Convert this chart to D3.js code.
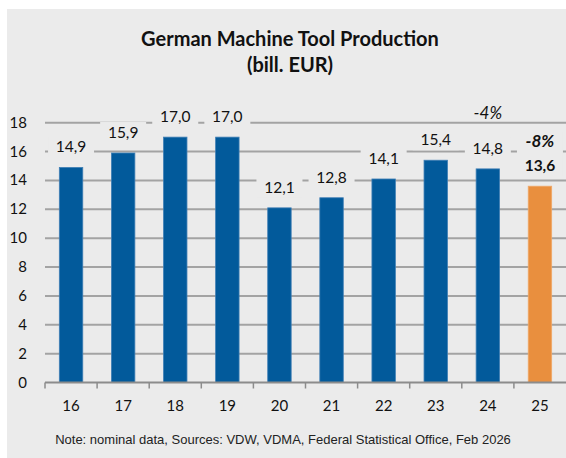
<!DOCTYPE html>
<html lang="en">
<head>
    <meta charset="UTF-8">
    <title>German Machine Tool Production</title>
    <script src="https://d3js.org/d3.v7.min.js"></script>
    <style>
        body {
            margin: 0;
            padding: 0;
            background-color: #fff;
        }
        svg {
            display: block;
        }
        .lbl {
            font-family: Lato, 'Noto Sans', sans-serif;
            fill: #111;
        }
    </style>
</head>
<body>
    <svg id="chart" width="566" height="458"></svg>

    <script>
        // Data
        const years = ["16", "17", "18", "19", "20", "21", "22", "23", "24", "25"];
        const production = [14.9, 15.9, 17.0, 17.0, 12.1, 12.8, 14.1, 15.4, 14.8, 13.6];
        const valueLabels = ["14,9", "15,9", "17,0", "17,0", "12,1", "12,8", "14,1", "15,4", "14,8", "13,6"];
        const yTicks = [0, 2, 4, 6, 8, 10, 12, 14, 16, 18];
        const change24 = "-4%";
        const change25 = "-8%";
        const highlightYear = "25";

        const svg = d3.select("#chart");

        // grey panel
        svg.append("rect")
            .attr("x", 7).attr("y", 9)
            .attr("width", 566 - 7).attr("height", 458 - 9)
            .attr("fill", "#ebebeb");

        // Scales
        const xScale = d3.scaleBand().domain(years).range([45, 566])
            .paddingInner(0.55).paddingOuter(0.275);
        const yScale = d3.scaleLinear().domain([0, 18]).range([382.5, 122.7]);

        // Title
        svg.append("text").attr("class", "lbl")
            .attr("x", 290).attr("y", 46)
            .attr("text-anchor", "middle")
            .style("font-size", "20px").style("font-weight", "bold")
            .text("German Machine Tool Production");
        svg.append("text").attr("class", "lbl")
            .attr("x", 290).attr("y", 72)
            .attr("text-anchor", "middle")
            .style("font-size", "20px").style("font-weight", "bold")
            .text("(bill. EUR)");

        // Gridlines
        svg.append("g")
            .selectAll("line")
            .data(yTicks.filter(d => d > 0))
            .join("line")
            .attr("x1", 45).attr("x2", 566)
            .attr("y1", d => yScale(d)).attr("y2", d => yScale(d))
            .attr("stroke", "#a3a3a3")
            .attr("stroke-width", 2);

        // Y labels
        svg.append("g")
            .selectAll("text")
            .data(yTicks)
            .join("text")
            .attr("class", "lbl")
            .attr("x", 27)
            .attr("y", d => yScale(d) + 5)
            .attr("text-anchor", "end")
            .style("font-size", "15px")
            .text(d => d);

        // Bars
        svg.append("g")
            .selectAll("rect")
            .data(years)
            .join("rect")
            .attr("x", d => xScale(d))
            .attr("y", (d, i) => yScale(production[i]))
            .attr("width", xScale.bandwidth())
            .attr("height", (d, i) => yScale(0) - yScale(production[i]))
            .attr("fill", d => d === highlightYear ? "#e98f3e" : "#025a9b")
            .attr("stroke", d => d === highlightYear ? "#f0a868" : "#3f7fb5")
            .attr("stroke-width", 0.8);

        // X axis
        const step = xScale.step();
        const axis = svg.append("g");
        axis.append("line")
            .attr("x1", 45).attr("x2", 566)
            .attr("y1", yScale(0)).attr("y2", yScale(0))
            .attr("stroke", "#8c8c8c").attr("stroke-width", 2);
        axis.selectAll(".tk")
            .data(years)
            .join("line")
            .attr("class", "tk")
            .attr("x1", d => xScale(d) - step * 0.275)
            .attr("x2", d => xScale(d) - step * 0.275)
            .attr("y1", yScale(0)).attr("y2", yScale(0) + 6)
            .attr("stroke", "#8c8c8c").attr("stroke-width", 1.5);
        axis.selectAll(".xl")
            .data(years)
            .join("text")
            .attr("class", "lbl xl")
            .attr("x", d => xScale(d) + xScale.bandwidth() / 2)
            .attr("y", 411)
            .attr("text-anchor", "middle")
            .style("font-size", "15px")
            .text(d => d);

        // Value labels with panel-coloured background
        const labels = svg.append("g");
        years.forEach((yr, i) => {
            const cx = xScale(yr) + xScale.bandwidth() / 2;
            const base = yScale(production[i]) - 15;
            const isLast = yr === highlightYear;
            const top = isLast ? base - 40 : base - 16;
            labels.append("rect")
                .attr("x", cx - 23).attr("y", top)
                .attr("width", 46).attr("height", base + 5 - top)
                .attr("fill", "#ebebeb");
            if (isLast) {
                labels.append("text").attr("class", "lbl")
                    .attr("x", cx).attr("y", base - 24)
                    .attr("text-anchor", "middle")
                    .style("font-size", "17px")
                    .style("font-weight", "bold").style("font-style", "italic")
                    .text(change25);
            }
            labels.append("text").attr("class", "lbl")
                .attr("x", cx).attr("y", base)
                .attr("text-anchor", "middle")
                .style("font-size", "15.5px")
                .style("font-weight", isLast ? "bold" : "normal")
                .text(valueLabels[i]);
        });

        // -4% annotation above 24
        svg.append("text").attr("class", "lbl")
            .attr("x", xScale("24") + xScale.bandwidth() / 2)
            .attr("y", yScale(18) - 4)
            .attr("text-anchor", "middle")
            .style("font-size", "17px").style("font-style", "italic")
            .text(change24);

        // Note
        svg.append("text")
            .attr("x", 283).attr("y", 444)
            .attr("text-anchor", "middle")
            .style("font-family", "'Liberation Sans', Arial, sans-serif")
            .style("font-size", "13px")
            .style("fill", "#222")
            .text("Note: nominal data, Sources: VDW, VDMA, Federal Statistical Office, Feb 2026");
    </script>
</body>
</html>
